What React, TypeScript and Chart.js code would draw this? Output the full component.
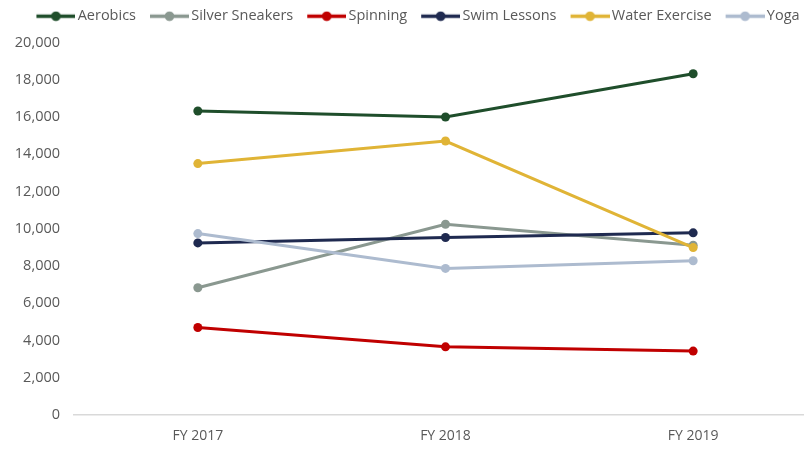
import React, { useEffect, useRef } from "react";
import { Chart, registerables } from "chart.js";

Chart.register(...registerables);

const categories = ["FY 2017", "FY 2018", "FY 2019"];
const seriesNames = ["Aerobics", "Silver Sneakers", "Spinning", "Swim Lessons", "Water Exercise", "Yoga"];
const aerobics = [16320, 16000, 18320];
const silverSneakers = [6830, 10240, 9120];
const spinning = [4700, 3660, 3430];
const swimLessons = [9240, 9530, 9780];
const waterExercise = [13500, 14710, 8990];
const yoga = [9740, 7870, 8280];
const seriesValues = [aerobics, silverSneakers, spinning, swimLessons, waterExercise, yoga];
const seriesColors = ["#1f4e2b", "#8a9890", "#c00000", "#1f2a50", "#e0b436", "#adbbcf"];
const yTicks = [0, 2000, 4000, 6000, 8000, 10000, 12000, 14000, 16000, 18000, 20000];

function makeLegendMarker(color: string): HTMLCanvasElement {
  const c = document.createElement("canvas");
  c.width = 49;
  c.height = 11;
  const ctx = c.getContext("2d")!;
  ctx.strokeStyle = color;
  ctx.lineWidth = 3.5;
  ctx.beginPath();
  ctx.moveTo(10, 5.5);
  ctx.lineTo(49, 5.5);
  ctx.stroke();
  ctx.fillStyle = color;
  ctx.beginPath();
  ctx.arc(29.5, 5.5, 4.8, 0, Math.PI * 2);
  ctx.fill();
  return c;
}

export default function App() {
  const ref = useRef<HTMLCanvasElement | null>(null);

  useEffect(() => {
    if (!ref.current) return;
    Chart.defaults.font.family = "'Open Sans', sans-serif";
    const markers = seriesColors.map(makeLegendMarker);
    const chart = new Chart(ref.current, {
      type: "line",
      data: {
        labels: categories,
        datasets: seriesNames.map((name, i) => ({
          label: name,
          data: seriesValues[i],
          borderColor: seriesColors[i],
          backgroundColor: seriesColors[i],
          pointBackgroundColor: seriesColors[i],
          pointBorderColor: seriesColors[i],
          borderWidth: 3,
          pointRadius: 4.5,
          pointBorderWidth: 0,
          tension: 0,
          fill: false,
          order: seriesNames.length - i,
        })),
      },
      options: {
        responsive: false,
        animation: false,
        layout: { padding: { left: 14, right: 13, top: 0, bottom: 0 } },
        plugins: {
          tooltip: { enabled: false },
          legend: {
            position: "top",
            labels: {
              usePointStyle: true,
              pointStyleWidth: 39,
              boxHeight: 11,
              padding: 9,
              color: "#595959",
              font: { size: 14.5 },
              generateLabels: (chart: any) =>
                chart.data.datasets.map((ds: any, i: number) => ({
                  text: ds.label,
                  pointStyle: markers[i],
                  fillStyle: seriesColors[i],
                  strokeStyle: seriesColors[i],
                  lineWidth: 0,
                  fontColor: "#595959",
                  hidden: false,
                  datasetIndex: i,
                })),
            },
          },
        },
        scales: {
          x: {
            type: "category",
            offset: true,
            grid: { display: false, drawTicks: false },
            border: { display: true, color: "#d9d9d9", width: 1.5 },
            ticks: { color: "#595959", font: { size: 14 }, padding: 13 },
            afterFit: (scale: any) => {
              scale.height = 34;
            },
          },
          y: {
            min: 0,
            max: 20000,
            afterBuildTicks: (scale: any) => {
              scale.ticks = yTicks.map((v) => ({ value: v }));
            },
            grid: { display: false, drawTicks: false },
            border: { display: false },
            ticks: {
              color: "#595959",
              font: { size: 14.5 },
              padding: 14,
              callback: (v: any) => Number(v).toLocaleString("en-US"),
            },
            afterFit: (scale: any) => {
              scale.width = 60;
            },
          },
        },
      },
      plugins: [
        {
          id: "legendSpace",
          beforeInit(c: any) {
            const orig = c.legend.fit;
            c.legend.fit = function () {
              orig.bind(c.legend)();
              this.height += 9;
            };
          },
        },
      ],
    } as any);
    return () => chart.destroy();
  }, []);

  return (
    <div
      style={{
        position: "fixed",
        left: 0,
        top: 0,
        width: 804,
        height: 449,
        overflow: "hidden",
        background: "#ffffff",
      }}
    >
      <canvas ref={ref} width={830} height={449} style={{ display: "block" }} />
    </div>
  );
}
